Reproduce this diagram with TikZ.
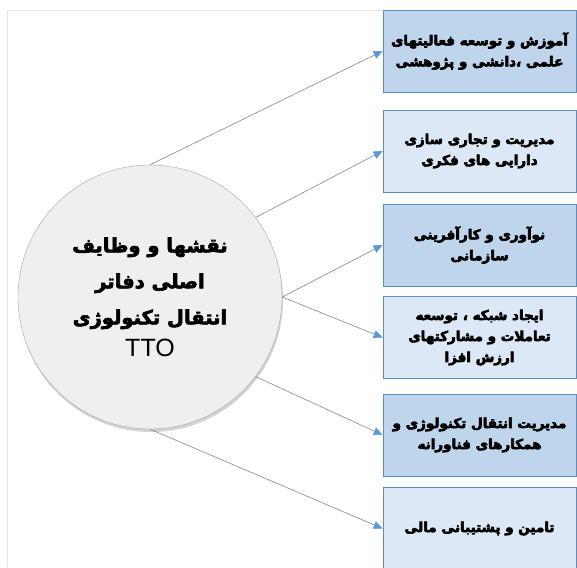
\documentclass[tikz,border=0pt]{standalone}
\usepackage{fontspec}
\usepackage{tikz}
\usetikzlibrary{shapes, arrows.meta, positioning, shadows}
\TeXXeTstate=1
\newfontfamily\farsifont[Script=Arabic]{DejaVu Sans}
\newfontfamily\ttofont{Liberation Sans}
\newcommand{\fa}[1]{\special{pdf:literal direct 2 Tr 0.6 w}\beginR #1\endR\special{pdf:literal direct 0 Tr}}
\definecolor{boxdark}{HTML}{BFD5EC}
\definecolor{boxlight}{HTML}{DCE8F5}
\definecolor{boxline}{HTML}{5E8DBE}
\definecolor{arrowblue}{HTML}{5B9BD5}
\definecolor{linegray}{HTML}{858585}
\definecolor{framegray}{HTML}{E6E6E6}
\definecolor{roundgray}{HTML}{EFEFEF}

\begin{document}
\begin{tikzpicture}[x=1pt, y=-1pt,
		task/.style={rectangle, draw=boxline, line width=0.8pt, minimum width=193pt, minimum height=82pt, align=center, font=\farsifont\bfseries\fontsize{13.5}{21}\selectfont},
		link/.style={draw=linegray, line width=0.6pt, -{Triangle[length=9pt, width=8pt, color=arrowblue]}}]
		\useasboundingbox (0,0) rectangle (577,567);
		\draw[framegray, line width=1pt] (7,567) -- (7,11) -- (383,11);
		% central role circle
		\node[circle, draw=gray!70, fill=roundgray, minimum size=264pt, align=center, font=\farsifont\bfseries\fontsize{19.5}{36}\selectfont, drop shadow={shadow xshift=1pt, shadow yshift=-3pt, opacity=0.35}] (tto) at (150,297) {\fa{نقشها و وظایف}\\ \fa{اصلی دفاتر}\\ \fa{انتقال تکنولوژی}\\[-4pt] \ttofont\mdseries\fontsize{25}{28}\selectfont TTO};
		% task boxes
		\node[task, fill=boxdark] (edu) at (479.5,51) {\fa{آموزش و توسعه فعالیتهای}\\ \fa{علمی ،دانشی و پژوهشی}};
		\node[task, fill=boxlight] (ip) at (479.5,151) {\fa{مدیریت و تجاری سازی}\\ \fa{دارایی های فکری}};
		\node[task, fill=boxdark] (inno) at (479.5,245) {\fa{نوآوری و کارآفرینی}\\ \fa{سازمانی}};
		\node[task, fill=boxlight] (net) at (479.5,337.5) {\fa{ایجاد شبکه ، توسعه}\\ \fa{تعاملات و مشارکتهای}\\ \fa{ارزش افزا}};
		\node[task, fill=boxdark] (trans) at (479.5,435) {\fa{مدیریت انتقال تکنولوژی و}\\ \fa{همکارهای فناورانه}};
		\node[task, fill=boxlight] (fund) at (479.5,528.5) {\fa{تامین و پشتیبانی مالی}};
		% links
		\draw[link] (tto.north) -- (edu.west);
		\draw[link] (tto.37) -- (ip.west);
		\draw[link] (tto.east) -- (inno.west);
		\draw[link] (tto.east) -- (net.west);
		\draw[link] (tto.-37) -- (trans.west);
		\draw[link] (tto.south) -- (fund.west);
\end{tikzpicture}
\end{document}
